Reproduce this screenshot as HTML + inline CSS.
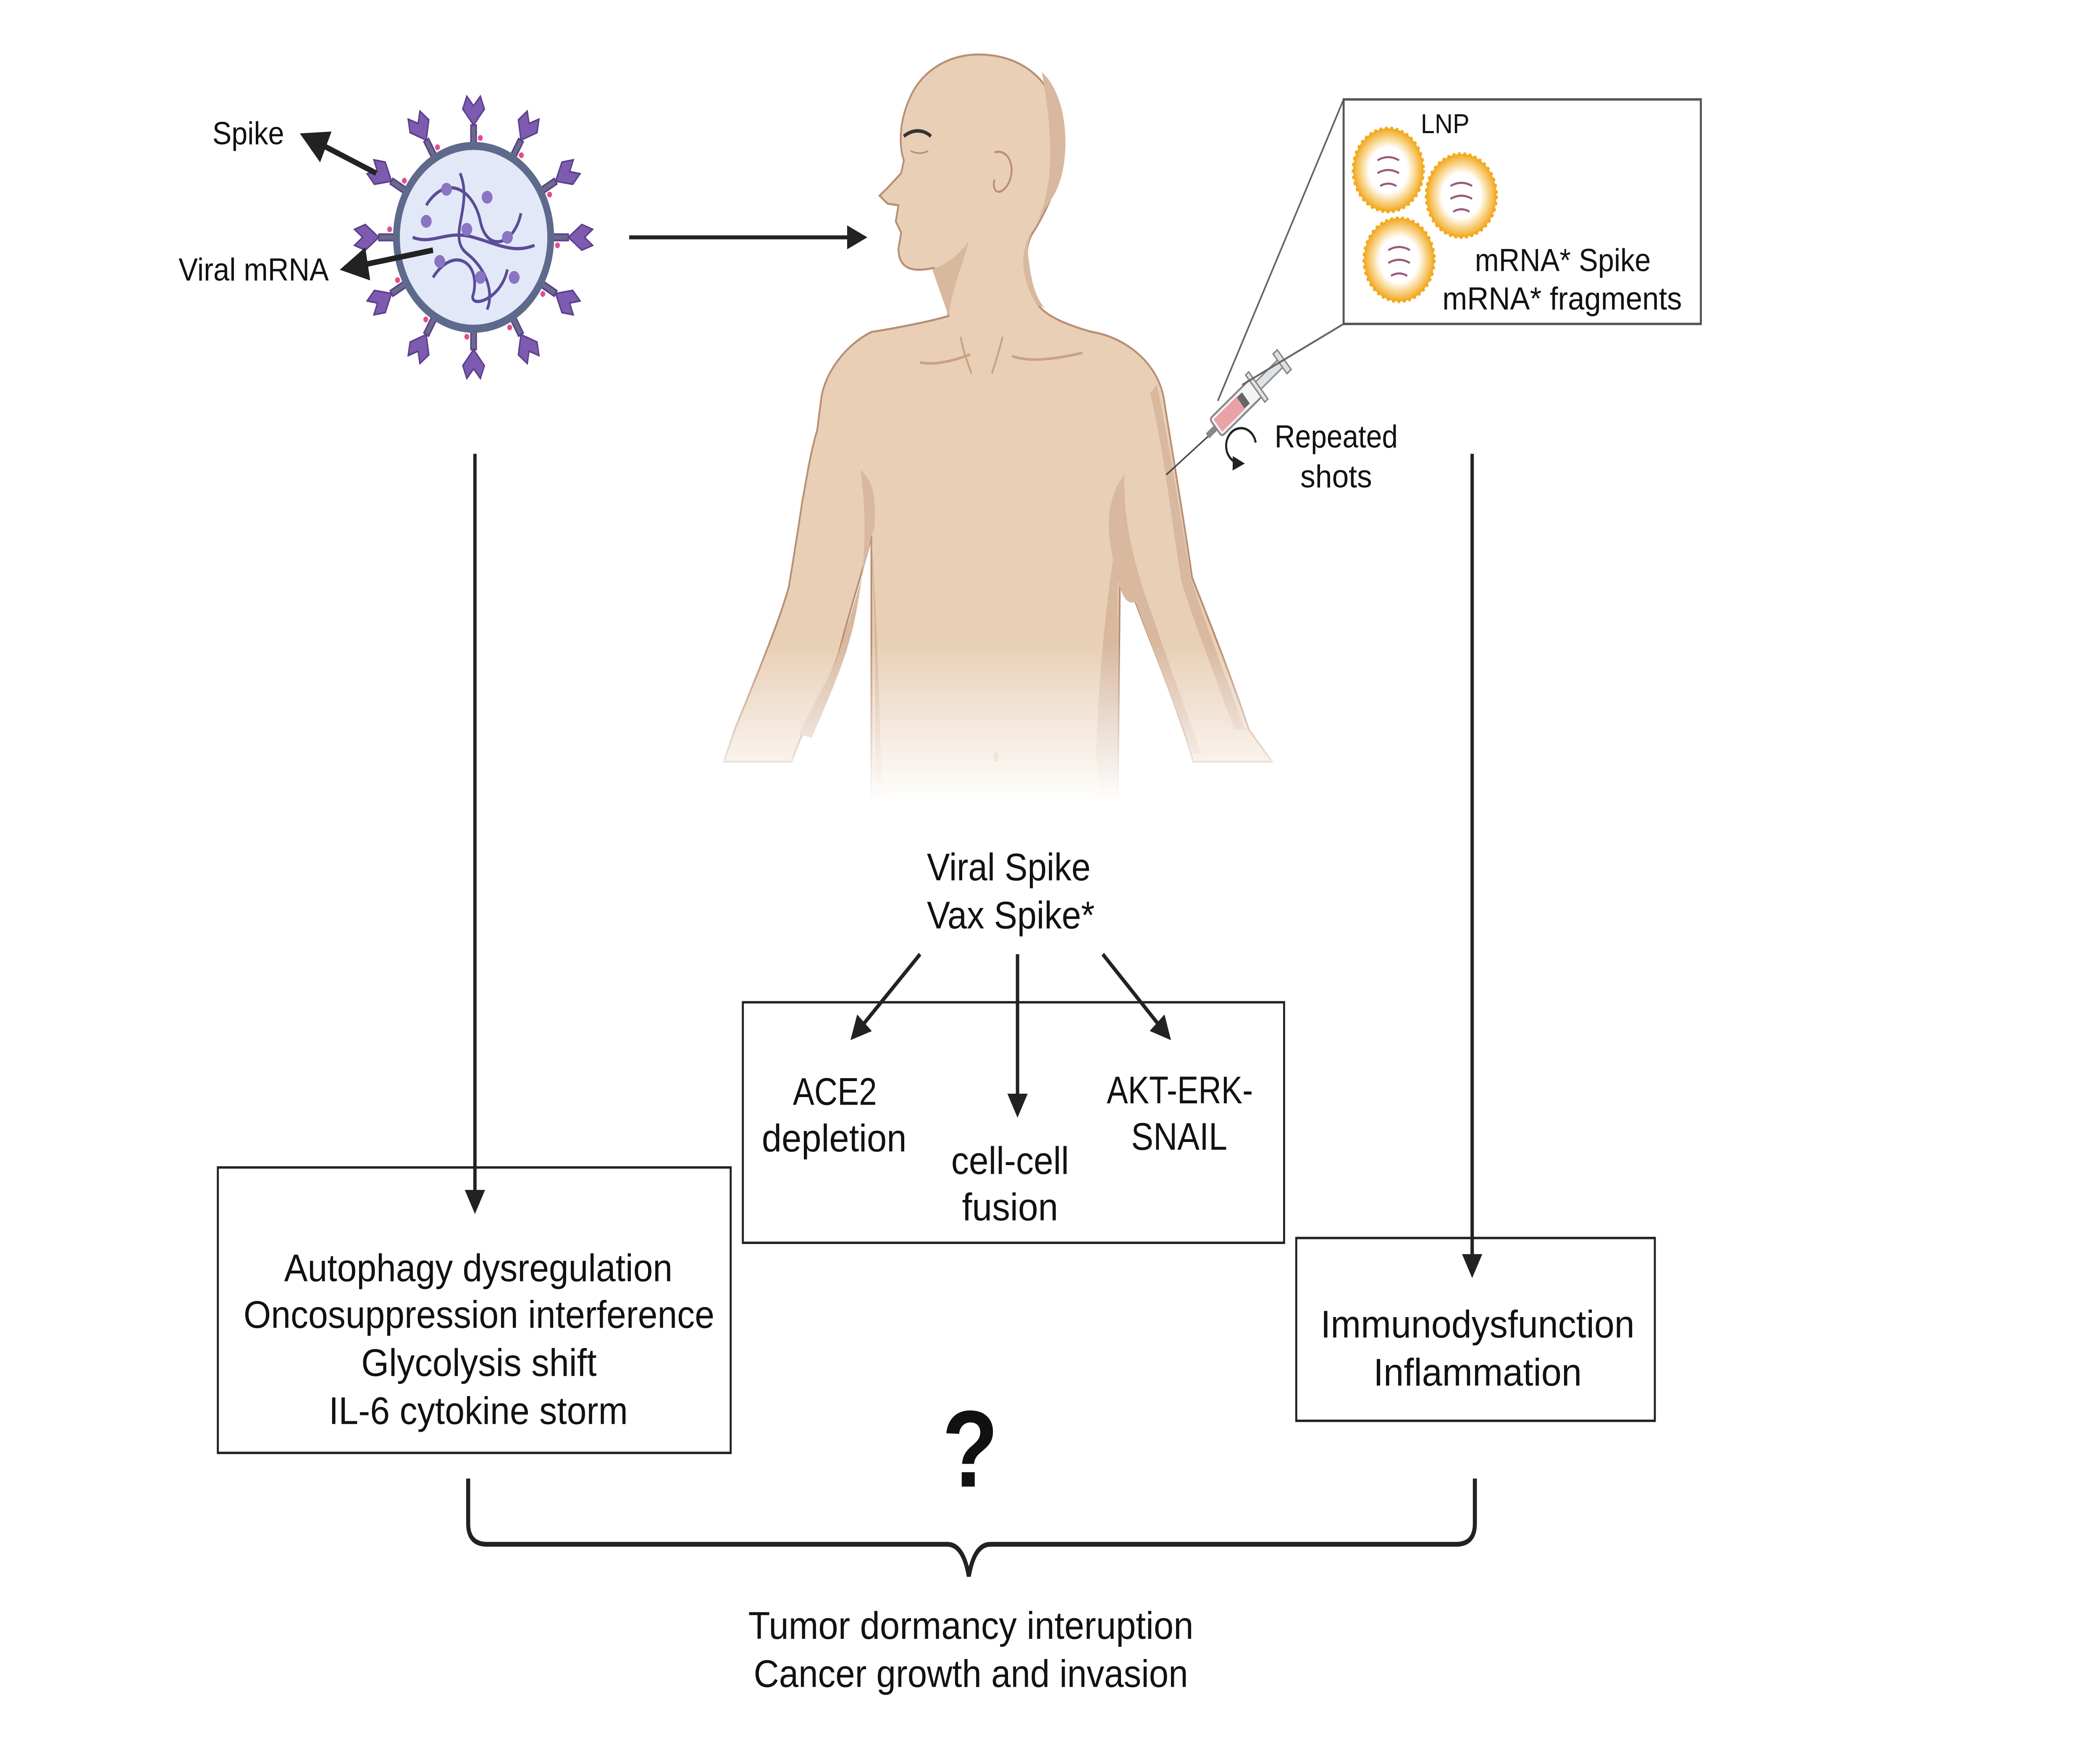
<!DOCTYPE html>
<html><head><meta charset="utf-8"><style>
html,body{margin:0;padding:0;background:#fff;width:100%;height:100%;overflow:hidden;}
svg{display:block;position:absolute;left:0;top:0;width:100%;height:100%;}
text{font-family:"Liberation Sans",sans-serif;fill:#111;}
</style></head><body>
<svg viewBox="0 0 1552 1100" preserveAspectRatio="none" xmlns="http://www.w3.org/2000/svg">
<defs>
<marker id="ah" markerWidth="6" markerHeight="6" refX="4" refY="3" orient="auto" markerUnits="strokeWidth">
<path d="M0,0 L6,3 L0,6 z" fill="#222"/></marker>
<linearGradient id="mg" x1="0" y1="400" x2="0" y2="500" gradientUnits="userSpaceOnUse"><stop offset="0" stop-color="#fff"/><stop offset="1" stop-color="#000"/></linearGradient>
<mask id="bm" maskUnits="userSpaceOnUse" x="0" y="0" width="1552" height="1100"><rect x="0" y="0" width="1552" height="1100" fill="url(#mg)"/></mask>
<radialGradient id="lnp"><stop offset="0.55" stop-color="#fff"/><stop offset="0.7" stop-color="#fbe3b0"/><stop offset="1" stop-color="#f2a81c"/></radialGradient>
</defs>
<rect width="1552" height="1100" fill="#fff"/>

<g transform="translate(350,148)">
<g fill="#7d5bb0" stroke="#5a3f8a" stroke-width="1">
<g id="sp"><rect x="-2" y="-70" width="4" height="14" fill="#6a6a8a"/><path d="M0,-70 L-8,-80 L-5,-88 L0,-82 L5,-88 L8,-80 z"/><circle cx="5" cy="-62" r="1.8" fill="#e0508a" stroke="none"/></g>
<use href="#sp" transform="rotate(30)"/><use href="#sp" transform="rotate(60)"/><use href="#sp" transform="rotate(90)"/>
<use href="#sp" transform="rotate(120)"/><use href="#sp" transform="rotate(150)"/><use href="#sp" transform="rotate(180)"/>
<use href="#sp" transform="rotate(210)"/><use href="#sp" transform="rotate(240)"/><use href="#sp" transform="rotate(270)"/>
<use href="#sp" transform="rotate(300)"/><use href="#sp" transform="rotate(330)"/>
</g>
<circle r="57" fill="#e3e8f8" stroke="#5d6a8c" stroke-width="5"/>
<g fill="none" stroke="#5a4c96" stroke-width="2">
<path d="M-35,-20 C-20,-40 0,-30 5,-10 C10,10 30,5 35,-15"/>
<path d="M-30,25 C-15,5 5,15 0,35 C-5,45 20,40 25,20"/>
<path d="M-10,-40 C0,-20 -20,0 -5,10 C10,20 15,35 10,45"/>
<path d="M-45,0 C-30,5 -20,-5 0,0 C20,5 30,10 45,5"/>
</g>
<g fill="#8a74c4"><circle cx="-20" cy="-30" r="4"/><circle cx="10" cy="-25" r="4"/><circle cx="25" cy="0" r="4"/><circle cx="-25" cy="15" r="4"/><circle cx="5" cy="25" r="4"/><circle cx="-5" cy="-5" r="4"/><circle cx="30" cy="25" r="4"/><circle cx="-35" cy="-10" r="4"/></g>
</g>
<line x1="278" y1="108" x2="228" y2="86" stroke="#222" stroke-width="3.5" marker-end="url(#ah)"/>
<line x1="320" y1="156" x2="258" y2="167" stroke="#222" stroke-width="3.5" marker-end="url(#ah)"/>
<text x="157" y="90" font-size="20" textLength="53" lengthAdjust="spacingAndGlyphs">Spike</text>
<text x="132" y="175" font-size="20" textLength="111" lengthAdjust="spacingAndGlyphs">Viral mRNA</text>
<line x1="465" y1="148" x2="636" y2="148" stroke="#222" stroke-width="2.5" marker-end="url(#ah)"/>

<g mask="url(#bm)">
<path d="M723,34 C700,34 680,45 672,62 C665,75 664,90 668,100 L666,108 L655,118 L650,122 L656,127 L664,128 L662,138 L666,145 L664,155 C664,168 675,170 690,167 L696,172 L701,197 C690,200 660,205 644,207 C625,215 610,232 607,248 L604,268 C598,285 596,300 593,312 C590,330 586,350 583,366 C575,390 555,430 543,455 L535,475 L585,475 C595,450 612,428 620,407 C628,380 640,350 644,334 L644,505 L826,505 L828,331 C832,350 835,365 839,375 C850,400 870,440 882,475 L940,475 L923,455 C905,410 890,380 881,360 C876,330 868,290 860,248 C855,225 830,210 807,207 C790,203 775,198 768,191 C760,180 755,160 762,147 C775,130 785,110 785,90 C785,55 760,34 723,34 Z" fill="#e8cfb5" stroke="#b98e74" stroke-width="1.3"/>
<path d="M770,45 C790,60 792,100 780,120 C770,135 758,145 760,160 C762,175 765,185 772,192 L766,190 C756,175 752,160 762,145 C775,128 782,100 770,45 Z" fill="#d8b89e"/>
<path d="M636,293 C645,300 648,310 646,330 L644,334 C638,360 628,385 620,407 C612,425 600,440 590,458 L600,460 C615,430 626,410 632,385 C638,360 642,330 636,293 Z" fill="#d8b89e"/>
<path d="M831,296 C822,305 818,320 820,335 C824,360 830,380 839,375 C850,400 868,440 882,470 L888,470 C874,438 858,400 846,370 C836,345 830,320 831,296 Z" fill="#d8b89e"/>
<path d="M855,240 C865,280 872,320 880,360 C895,400 910,430 920,455 L912,455 C900,425 885,395 873,362 C865,320 860,280 850,245 Z" fill="#d8b89e"/>
<path d="M826,331 C818,370 812,420 810,470 L814,505 L826,505 Z" fill="#d8b89e"/>
<path d="M644,334 C646,380 648,430 646,505 L652,505 C650,440 648,380 644,334 Z" fill="#d8b89e"/>
<path d="M717,221 C705,225 690,228 680,226 M748,222 C760,226 780,224 800,220" fill="none" stroke="#c9a184" stroke-width="1.6"/>
<path d="M689,168 C700,165 710,158 716,150 C712,165 705,175 701,197" fill="#d8b89e"/>
<path d="M710,210 C712,220 716,228 718,233 M741,210 C738,220 735,228 733,233" fill="none" stroke="#c9a184" stroke-width="1.3"/>
<path d="M735,95 C748,92 752,110 742,118 C737,122 733,118 735,112" fill="none" stroke="#b98e74" stroke-width="1.3"/>
<path d="M668,85 C675,80 683,81 688,85" fill="none" stroke="#333" stroke-width="2.2"/>
<path d="M673,94 C677,96 682,96 686,94" fill="none" stroke="#b98e74" stroke-width="1"/>
<ellipse cx="736" cy="472" rx="2" ry="3" fill="#c9a184"/>
</g>

<line x1="862" y1="296" x2="893" y2="272" stroke="#444" stroke-width="1"/>
<g transform="translate(897,268) rotate(-40)">
<rect x="-6" y="-2" width="8" height="4" fill="#888"/>
<rect x="2" y="-7" width="40" height="14" rx="2" fill="#f4f4f4" stroke="#888" stroke-width="1.3"/>
<rect x="4" y="-5" width="22" height="10" fill="#e9a3a6"/>
<rect x="26" y="-4.5" width="5" height="9" fill="#666"/>
<rect x="42" y="-3" width="22" height="6" fill="#dde2e5" stroke="#888" stroke-width="1"/>
<rect x="64" y="-8" width="4" height="16" fill="#dde2e5" stroke="#888" stroke-width="1"/>
<rect x="40" y="-11" width="3" height="22" fill="#dde2e5" stroke="#888" stroke-width="1"/>
</g>
<path d="M928,276 A11,11 0 1 0 917,289" fill="none" stroke="#222" stroke-width="1.5" marker-end="url(#ah)"/>
<text x="942" y="279" font-size="20" textLength="91" lengthAdjust="spacingAndGlyphs">Repeated</text>
<text x="961" y="304" font-size="20" textLength="53" lengthAdjust="spacingAndGlyphs">shots</text>

<line x1="900" y1="250" x2="993" y2="62" stroke="#666" stroke-width="1.2"/>
<line x1="918" y1="240" x2="993" y2="202" stroke="#666" stroke-width="1.2"/>
<rect x="993" y="62" width="264" height="140" fill="#fff" stroke="#555" stroke-width="1.5"/>
<g stroke="#f2a81c" stroke-width="2" stroke-dasharray="2 2">
<circle cx="1026" cy="106" r="26" fill="url(#lnp)"/>
<circle cx="1080" cy="122" r="26" fill="url(#lnp)"/>
<circle cx="1034" cy="162" r="26" fill="url(#lnp)"/>
</g>
<g fill="none" stroke="#9a5a7a" stroke-width="1.3">
<path d="M1018,100 q8,-4 16,0 M1018,108 q8,-4 16,0 M1020,116 q6,-3 12,0"/>
<path d="M1072,116 q8,-4 16,0 M1072,124 q8,-4 16,0 M1074,132 q6,-3 12,0"/>
<path d="M1026,156 q8,-4 16,0 M1026,164 q8,-4 16,0 M1028,172 q6,-3 12,0"/>
</g>
<text x="1050" y="83" font-size="17" textLength="36" lengthAdjust="spacingAndGlyphs">LNP</text>
<text x="1090" y="169" font-size="20" textLength="130" lengthAdjust="spacingAndGlyphs">mRNA* Spike</text>
<text x="1066" y="193" font-size="20" textLength="177" lengthAdjust="spacingAndGlyphs">mRNA* fragments</text>

<g font-size="24">
<text x="685" y="549" textLength="121" lengthAdjust="spacingAndGlyphs">Viral Spike</text>
<text x="685" y="579" textLength="124" lengthAdjust="spacingAndGlyphs">Vax Spike*</text>
<text x="586" y="689" textLength="62" lengthAdjust="spacingAndGlyphs">ACE2</text>
<text x="563" y="718" textLength="107" lengthAdjust="spacingAndGlyphs">depletion</text>
<text x="703" y="732" textLength="87" lengthAdjust="spacingAndGlyphs">cell-cell</text>
<text x="711" y="761" textLength="71" lengthAdjust="spacingAndGlyphs">fusion</text>
<text x="818" y="688" textLength="108" lengthAdjust="spacingAndGlyphs">AKT-ERK-</text>
<text x="836" y="717" textLength="71" lengthAdjust="spacingAndGlyphs">SNAIL</text>
<text x="210" y="799" textLength="287" lengthAdjust="spacingAndGlyphs">Autophagy dysregulation</text>
<text x="180" y="828" textLength="348" lengthAdjust="spacingAndGlyphs">Oncosuppression interference</text>
<text x="267" y="858" textLength="174" lengthAdjust="spacingAndGlyphs">Glycolysis shift</text>
<text x="243" y="888" textLength="221" lengthAdjust="spacingAndGlyphs">IL-6 cytokine storm</text>
<text x="976" y="834" textLength="232" lengthAdjust="spacingAndGlyphs">Immunodysfunction</text>
<text x="1015" y="864" textLength="154" lengthAdjust="spacingAndGlyphs">Inflammation</text>
<text x="553" y="1022" textLength="329" lengthAdjust="spacingAndGlyphs">Tumor dormancy interuption</text>
<text x="557" y="1052" textLength="321" lengthAdjust="spacingAndGlyphs">Cancer growth and invasion</text>
</g>
<line x1="680" y1="595" x2="632" y2="645" stroke="#222" stroke-width="2.5" marker-end="url(#ah)"/>
<line x1="752" y1="595" x2="752" y2="692" stroke="#222" stroke-width="2.5" marker-end="url(#ah)"/>
<line x1="815" y1="595" x2="862" y2="645" stroke="#222" stroke-width="2.5" marker-end="url(#ah)"/>
<rect x="549" y="625" width="400" height="150" fill="none" stroke="#222" stroke-width="1.5"/>

<line x1="351" y1="283" x2="351" y2="752" stroke="#222" stroke-width="2.5" marker-end="url(#ah)"/>
<line x1="1088" y1="283" x2="1088" y2="792" stroke="#222" stroke-width="2.5" marker-end="url(#ah)"/>

<rect x="161" y="728" width="379" height="178" fill="none" stroke="#222" stroke-width="1.5"/>
<rect x="958" y="772" width="265" height="114" fill="none" stroke="#222" stroke-width="1.5"/>

<text x="717" y="927" font-size="68" font-weight="bold" text-anchor="middle">?</text>
<path d="M346,922 L346,950 Q346,963 360,963 L700,963 Q712,963 716,983 Q720,963 732,963 L1076,963 Q1090,963 1090,950 L1090,922" fill="none" stroke="#222" stroke-width="3"/>
</svg>
</body></html>
